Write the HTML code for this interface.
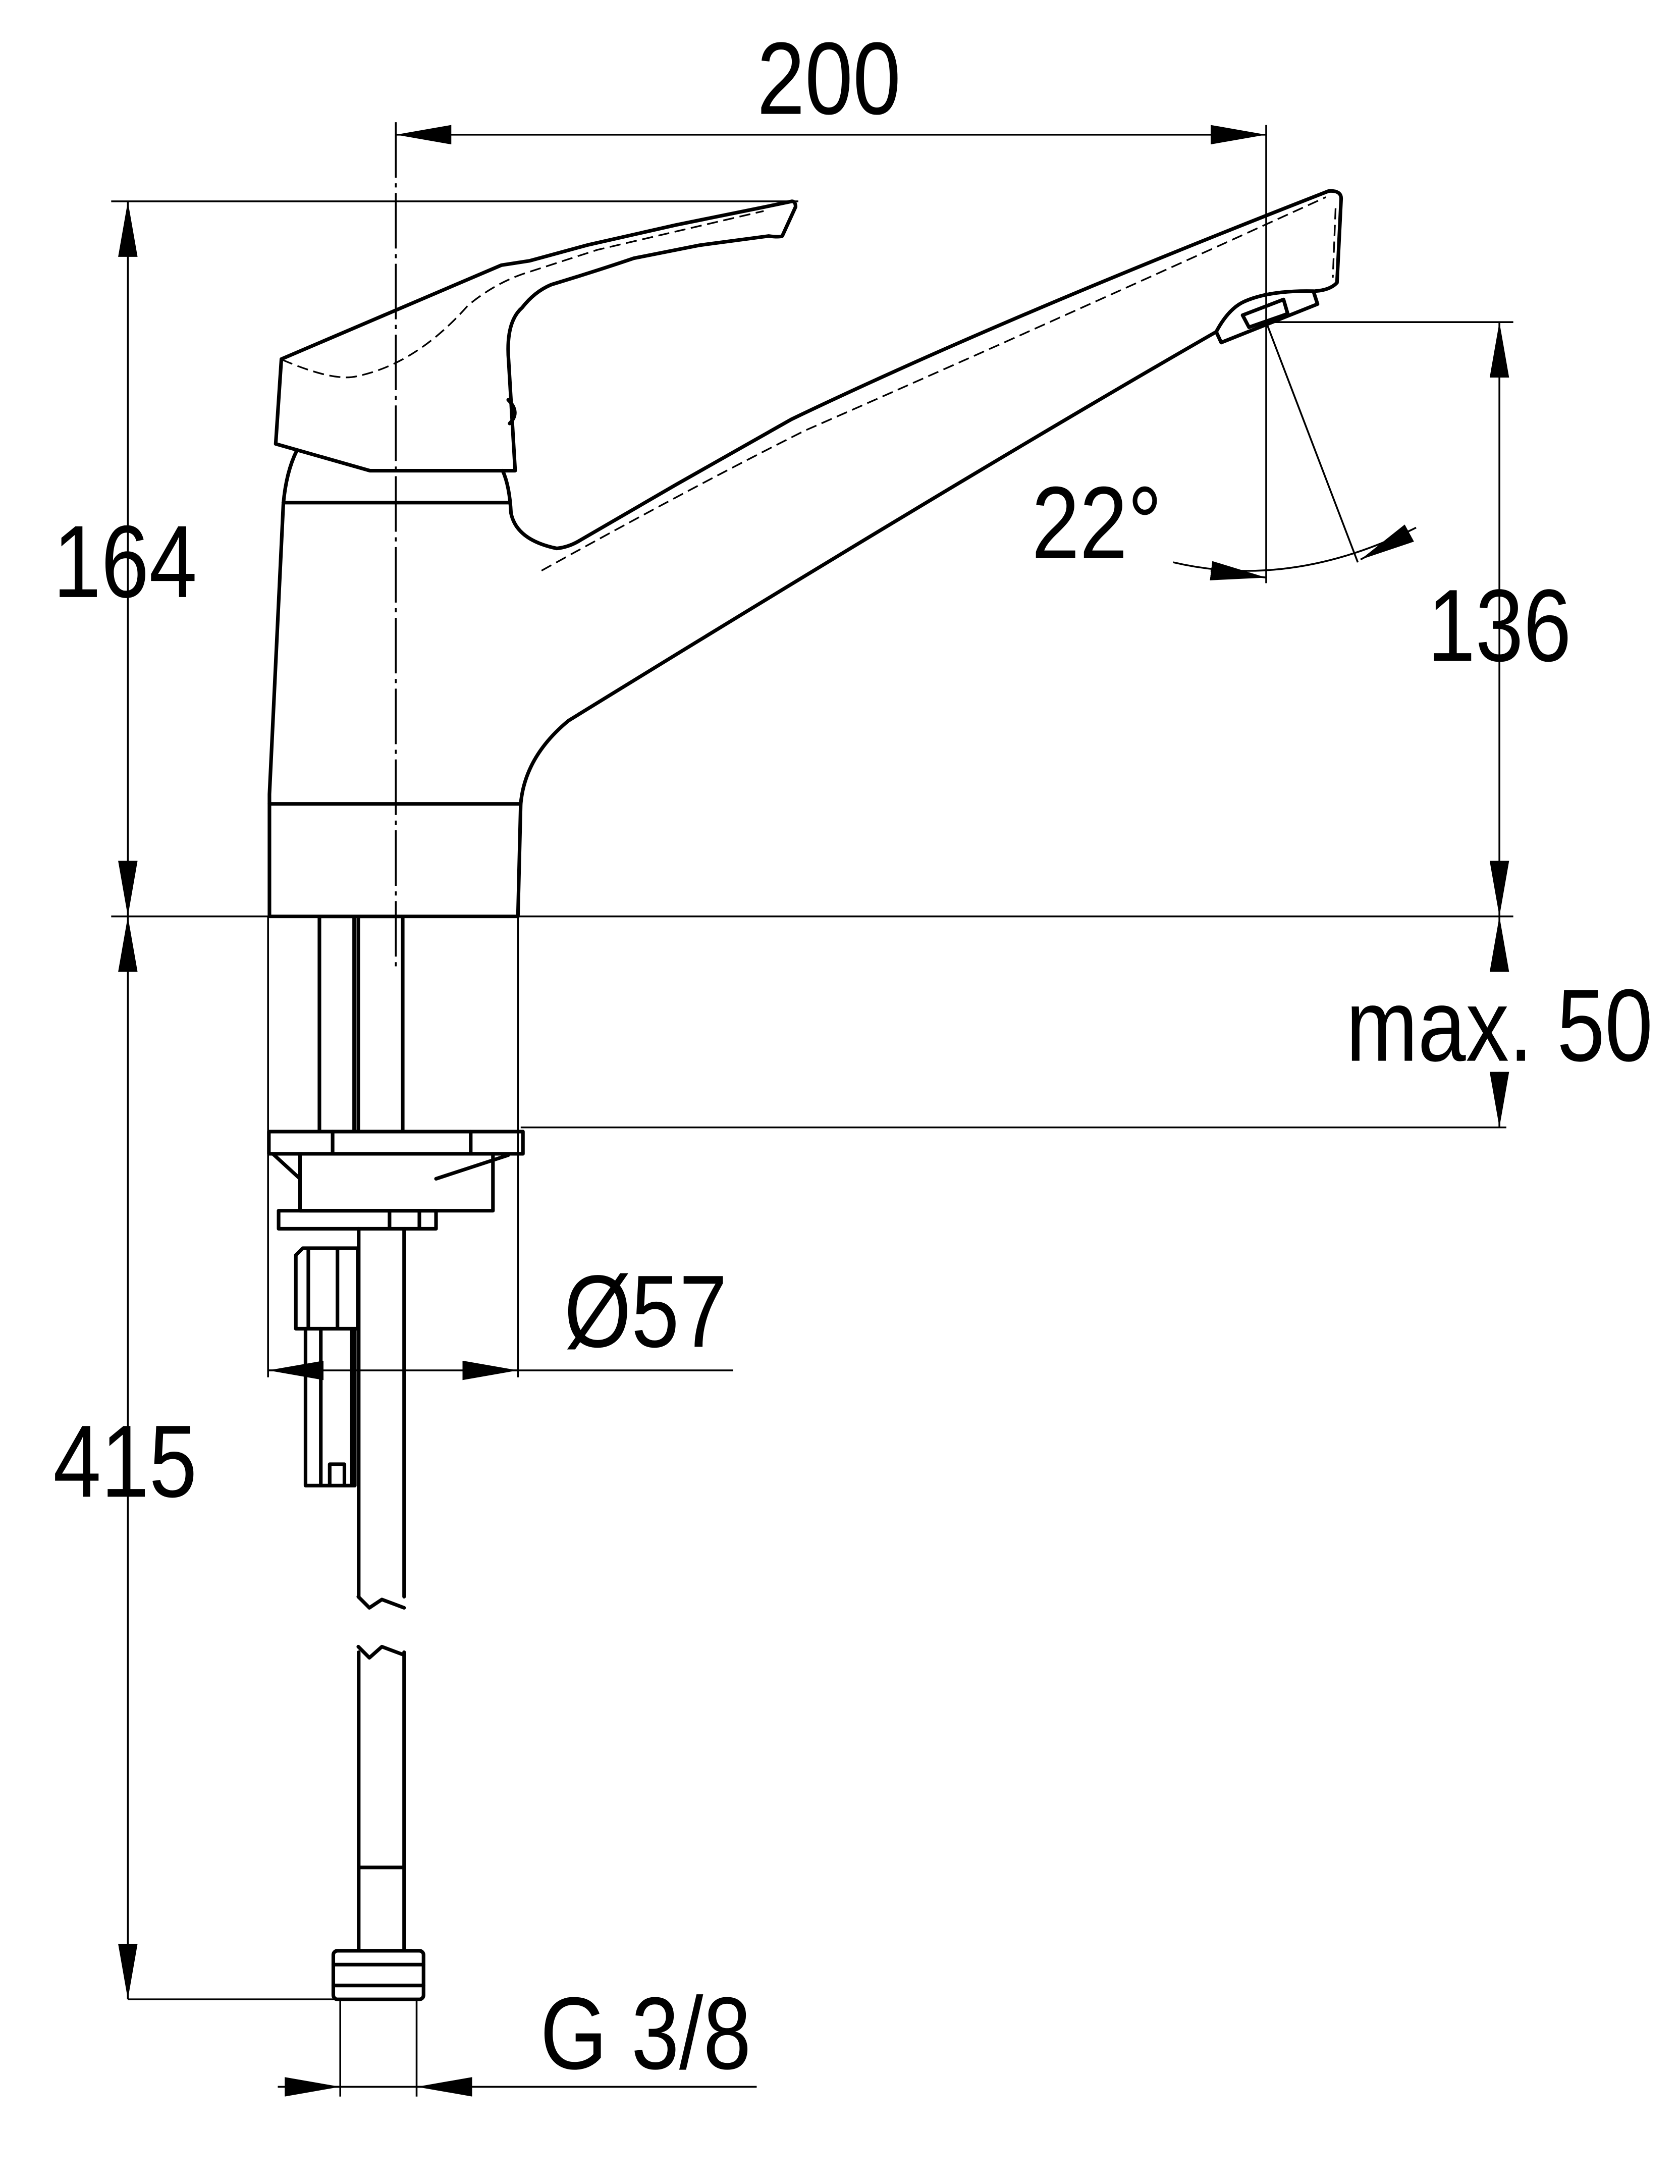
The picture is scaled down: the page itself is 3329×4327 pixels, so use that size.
<!DOCTYPE html>
<html><head><meta charset="utf-8"><style>html,body{margin:0;padding:0;background:#fff}svg{display:block}</style></head><body>
<svg width="3329" height="4327" viewBox="0 0 1210 1573" xmlns="http://www.w3.org/2000/svg">
<defs>
<marker id="a" viewBox="0 0 40 14" refX="40" refY="7" markerWidth="40" markerHeight="14" markerUnits="userSpaceOnUse" orient="auto-start-reverse"><path d="M0,0L40,7L0,14z" fill="#000"/></marker>
</defs>
<g fill="none" stroke="#000" stroke-width="1.3">
<line x1="80" y1="145" x2="575" y2="145"/>
<line x1="80" y1="660" x2="1090" y2="660"/>
<line x1="375" y1="812" x2="1085" y2="812"/>
<line x1="912" y1="232" x2="1090" y2="232"/>
<line x1="92" y1="1440" x2="245" y2="1440"/>
<line x1="285" y1="88" x2="285" y2="700" stroke-dasharray="40,4,3,4"/>
<line x1="912" y1="90" x2="912" y2="420"/>
<line x1="193" y1="660" x2="193" y2="992"/>
<line x1="373" y1="660" x2="373" y2="992"/>
<line x1="245" y1="1440" x2="245" y2="1510"/>
<line x1="300" y1="1440" x2="300" y2="1510"/>
<line x1="912" y1="232" x2="978" y2="405"/>
<line x1="285" y1="97" x2="912" y2="97" marker-start="url(#a)" marker-end="url(#a)"/>
<line x1="92" y1="145" x2="92" y2="660" marker-start="url(#a)" marker-end="url(#a)"/>
<line x1="92" y1="660" x2="92" y2="1440" marker-start="url(#a)" marker-end="url(#a)"/>
<line x1="1080" y1="232" x2="1080" y2="660" marker-start="url(#a)" marker-end="url(#a)"/>
<line x1="1080" y1="700" x2="1080" y2="660" marker-end="url(#a)"/>
<line x1="1080" y1="772" x2="1080" y2="812" marker-end="url(#a)"/>
<line x1="193" y1="987" x2="528" y2="987"/>
<line x1="233" y1="987" x2="193" y2="987" marker-end="url(#a)"/>
<line x1="333" y1="987" x2="373" y2="987" marker-end="url(#a)"/>
<line x1="200" y1="1503" x2="545" y2="1503"/>
<line x1="205" y1="1503" x2="245" y2="1503" marker-end="url(#a)"/>
<line x1="340" y1="1503" x2="300" y2="1503" marker-end="url(#a)"/>
<path d="M845,405 Q930,425 1020,380"/>
<line x1="872" y1="411" x2="912" y2="416" marker-end="url(#a)"/>
<line x1="1015" y1="384" x2="980" y2="403" marker-end="url(#a)"/>
</g>
<g fill="none" stroke="#000" stroke-width="2.6" stroke-linejoin="round" stroke-linecap="round">
<!-- handle -->
<path d="M202.6,258.6 L198.5,319.7 L266.4,339 L371,339 L366.3,260 Q364,232 376,221.6 Q385,210 397,205 Q430,195 456.5,186 L504,176.6 L553.6,170 Q561,171 563.4,170 L573,149 Q573,145 570.3,145 L551,149 L487,162 L423,176.5 L381.6,187.8 L361,191 Z"/>
<path d="M366,288 Q375,297 367,305"/>
<!-- body -->
<path d="M213.7,324.5 Q206,340 204,363 L194,572 L194,660 L373,660 L375,579 Q378,545 409.5,519 Q700,340 876,239"/>
<line x1="204" y1="362" x2="367" y2="362"/>
<line x1="194" y1="579" x2="375" y2="579"/>
<path d="M362,339 Q367,350 368,369.6 Q372,389 401,395 Q410,394 418,389 L487,349 L570,302 Q720,230 957,137.6 Q966,137 966,143 L963,203.6 Q958,209 947,209.7"/>
<path d="M876,239 Q885,222 896.6,217 Q915,209 946,209.7 L949,219 L879.6,246.7 Z"/>
<path d="M895,227 L924.5,215.7 L927.5,226 L899.6,235.7 Z"/>
<!-- base parts -->
<rect x="230" y="660" width="25" height="155"/>
<rect x="258" y="660" width="32" height="155"/>
<rect x="193.6" y="815" width="183" height="16"/>
<path d="M239.5,815 V831 M339,815 V831"/>
<path d="M216,831 L216,872 L355,872 L355,831 M196.4,831 L216,849 M314,849 L366,832"/>
<rect x="200.6" y="872" width="113.4" height="13"/>
<path d="M280.5,872 V885 M302,872 V885"/>
<path d="M213,957 L213,904 L218,899 L257.6,899 L257.6,957 Z M222,900 V957 M243,900 V957"/>
<path d="M220,957 V1070 H255.5 V957 M231,957 V1070 M253.4,957 V1070 M237.4,1070 V1054.6 H248 V1070"/>
<path d="M258.3,885 V1150 M291,885 V1150"/>
<path d="M258,1150 L266,1158 L275,1152 L291,1158 M258,1186 L266,1194 L275,1186 L291,1192"/>
<path d="M258.3,1190 V1405 M291,1190 V1405 M258.3,1345 H291"/>
<rect x="240" y="1405" width="65" height="35" rx="3"/>
<path d="M240,1415 H305 M240,1430 H305"/>
</g>
<g fill="none" stroke="#000" stroke-width="1.2" stroke-dasharray="8,4">
<path d="M203,259 Q240,275 257,271 Q300,262 337,220 Q355,205 376,197.5 L430,180 L550,152"/>
<path d="M390,411 Q500,350 580,310 Q740,240 955,142"/>
<path d="M962,150 L960,200"/>
</g>
<g font-family="'Liberation Sans', sans-serif" font-size="74" fill="#000" text-anchor="middle">
<text transform="translate(597,82) scale(0.84,1)">200</text>
<text transform="translate(90,430) scale(0.84,1)">164</text>
<text transform="translate(1080,476) scale(0.84,1)">136</text>
<text transform="translate(1080,764) scale(0.84,1)">max. 50</text>
<text transform="translate(90,1078) scale(0.84,1)">415</text>
<text transform="translate(465,970) scale(0.84,1)">Ø57</text>
<text transform="translate(465,1490) scale(0.84,1)">G 3/8</text>
<text transform="translate(790,402) scale(0.84,1)">22°</text>
</g>
</svg>
</body></html>
